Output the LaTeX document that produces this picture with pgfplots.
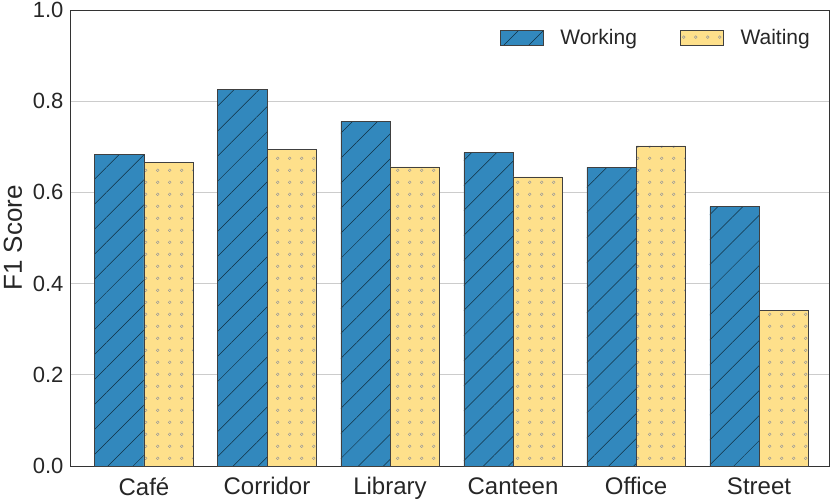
\documentclass[border=0pt]{standalone}
\usepackage{fontspec}
\setmainfont{Liberation Sans}
\usepackage{pgfplots}
\pgfplotsset{compat=1.18}
\usetikzlibrary{patterns.meta}
\definecolor{spblue}{HTML}{3288BD}
\definecolor{spyellow}{HTML}{FEE08B}
\definecolor{txt}{HTML}{262626}
\tikzdeclarepattern{
  name=rings,
  type=uncolored,
  bottom left={(0pt,0pt)},
  top right={(11.7pt,11.7pt)},
  tile size={(11.7pt,11.7pt)},
  code={
    \pgfsetlinewidth{0.5pt}
    \pgfpathcircle{\pgfpoint{5.85pt}{5.85pt}}{1.4pt}
    \pgfusepath{stroke}
  }
}
\begin{document}
\begin{tikzpicture}
\useasboundingbox (-70pt,-33pt) rectangle (761pt,466pt);
\begin{axis}[
  at={(0,0)}, anchor=south west,
  scale only axis, width=759pt, height=456pt,
  ymin=0, ymax=1, xmin=-0.6016, xmax=5.569,
  ytick={0,0.2,0.4,0.6,0.8,1},
  yticklabels={0.0,0.2,0.4,0.6,0.8,1.0},
  xtick={0,1,2,3,4,5},
  xticklabels={Café,Corridor,Library,Canteen,Office,Street},
  major tick length=0pt,
  ymajorgrids,
  grid style={color=black!20, line width=0.8pt},
  axis line style={color=black!80, line width=0.9pt},
  tick label style={font=\fontsize{22}{26}\selectfont, text=txt},
  yticklabel style={xshift=-3pt},
  xticklabel style={font=\fontsize{24}{28}\selectfont, yshift=-8pt},
  ylabel={F1 Score},
  every axis y label/.style={at={(axis description cs:-0.0751,0.5)}, rotate=90, anchor=center, font=\fontsize{26}{30}\selectfont, text=txt},
  ybar=0pt, bar width=0.4,
  legend columns=2,
  legend style={draw=none, fill=none, at={(0.975,0.939)}, anchor=east, inner sep=0pt,
    font=\fontsize{21}{25}\selectfont, text=txt,
    nodes={inner sep=0pt},
    /tikz/every odd column/.append style={column sep=17pt},
    /tikz/every even column/.append style={column sep=43pt}},
  legend image code/.code={\draw[#1] (0pt,-7.5pt) rectangle (43pt,7.5pt);},
]
\addplot[fill=spblue, draw=black!75, line width=0.6pt,
  postaction={pattern={Lines[angle=45,distance=17.7pt,line width=0.5pt]}, pattern color=black!65!spblue}]
  coordinates {(0,0.683) (1,0.826) (2,0.755) (3,0.687) (4,0.655) (5,0.569)};
\addlegendentry{Working}
\addplot[fill=spyellow, draw=black!75, line width=0.6pt,
  postaction={pattern=rings, pattern color=black!40}]
  coordinates {(0,0.666) (1,0.695) (2,0.656) (3,0.634) (4,0.702) (5,0.341)};
\addlegendentry{Waiting}
\end{axis}
\end{tikzpicture}
\end{document}
